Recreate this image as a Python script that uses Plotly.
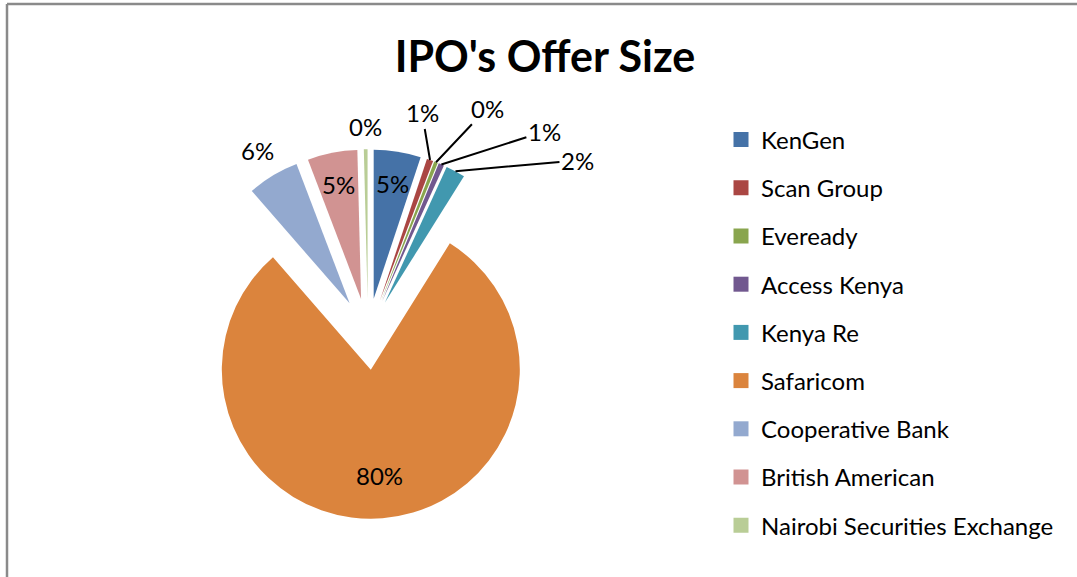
import math
import plotly.graph_objects as go

# IPO offer sizes as share of total (%)
companies = ['KenGen', 'Scan Group', 'Eveready', 'Access Kenya', 'Kenya Re',
             'Safaricom', 'Cooperative Bank', 'British American',
             'Nairobi Securities Exchange']
offer_share = [5.1, 0.7, 0.4, 0.6, 2.1, 79.7, 5.6, 5.4, 0.4]
colors = ['#4572A7', '#AA4643', '#89A54E', '#71588F', '#4198AF',
          '#DB843D', '#93A9CF', '#D19392', '#B9CD96']

W, H = 1077, 577
FONT = 'Lato'

# pie geometry in pixels (centre, radius, explosion)
CX, CY, R, PULL = 368, 334, 149, 0.24

# how each data label is placed: ('in', radius factor) / ('out', radius factor)
# / ('line', dx, dy) for a leader line from the slice edge
label_style = [('in', 0.78), ('line', -8, -47), ('line', 51, -54),
               ('line', 103, -33), ('line', 122, -11), ('in', 0.71),
               ('out', 1.2), ('in', 0.78), ('out', 1.15)]

half = R * (1 + PULL)
fig = go.Figure()
fig.add_trace(go.Pie(
    labels=companies,
    values=offer_share,
    sort=False,
    direction='clockwise',
    rotation=0,
    pull=PULL,
    marker=dict(colors=colors, line=dict(width=0)),
    textinfo='none',
    hoverinfo='label+percent',
    showlegend=False,
    domain=dict(x=[(CX - half) / W, (CX + half) / W],
                y=[1 - (CY + half) / H, 1 - (CY - half) / H]),
))

# data labels, positioned from the slice angles
total = sum(offer_share)
annotations = []
start = 0.0
for v, style in zip(offer_share, label_style):
    mid = (start + v / 2) / total
    start += v
    th = 2 * math.pi * mid
    ux, uy = math.sin(th), -math.cos(th)
    px_, py_ = CX + PULL * R * ux, CY + PULL * R * uy
    txt = f'{round(100 * v / total):.0f}%'
    if style[0] == 'line':
        tx, ty = px_ + R * ux, py_ + R * uy
        annotations.append(dict(
            x=tx / W, y=1 - ty / H, xref='paper', yref='paper', text=txt,
            showarrow=True, arrowhead=0, arrowwidth=2, arrowcolor='black',
            ax=style[1], ay=style[2], standoff=0,
            font=dict(family=FONT, size=24, color='black')))
    else:
        k = style[1]
        tx, ty = px_ + k * R * ux, py_ + k * R * uy
        annotations.append(dict(
            x=tx / W, y=1 - ty / H, xref='paper', yref='paper', text=txt,
            xanchor='center', yanchor='middle', showarrow=False,
            font=dict(family=FONT, size=24, color='black')))

# legend drawn from dummy traces so the item spacing can match
for name, c in zip(companies, colors):
    fig.add_trace(go.Scatter(
        x=[None], y=[None], mode='markers', name=name, legendgroup=name,
        marker=dict(symbol='square', size=15, color=c),
    ))

fig.update_layout(
    width=W, height=H,
    margin=dict(l=0, r=0, t=0, b=0),
    paper_bgcolor='white', plot_bgcolor='white',
    font=dict(family=FONT, size=24, color='black'),
    title=dict(text="<b>IPO's Offer Size</b>", x=545 / W, xanchor='center',
               y=1 - 57 / H, yanchor='middle',
               font=dict(family=FONT, size=43, color='black')),
    xaxis=dict(visible=False), yaxis=dict(visible=False),
    legend=dict(x=721 / W, xanchor='left', y=1 - 117.5 / H, yanchor='top',
                tracegroupgap=14, font=dict(size=24),
                itemclick=False, itemdoubleclick=False),
    annotations=annotations,
    shapes=[dict(type='line', xref='paper', yref='paper',
                 x0=7 / W, x1=7 / W, y0=0, y1=1 - 4 / H,
                 line=dict(color='#8a8a8a', width=2.5)),
            dict(type='line', xref='paper', yref='paper',
                 x0=7 / W, x1=1, y0=1 - 4 / H, y1=1 - 4 / H,
                 line=dict(color='#8a8a8a', width=2.5))],
)

fig.write_html('out.html', config={'displayModeBar': False},
               post_script="document.body.style.margin='0px';")
